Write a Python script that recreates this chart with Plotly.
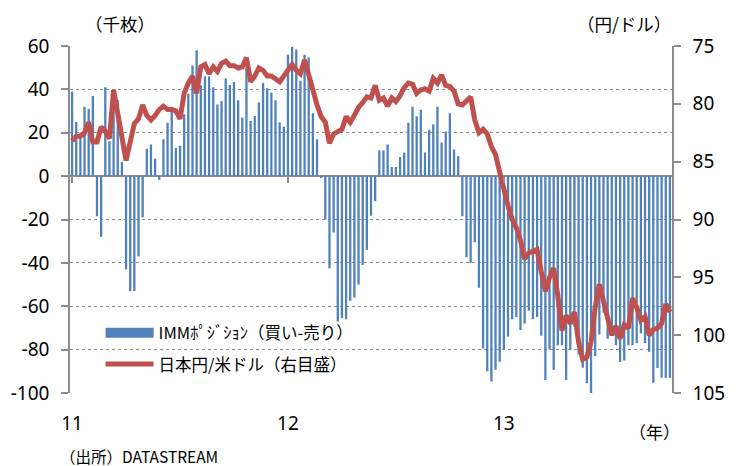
import plotly.graph_objects as go
import pandas as pd

# ---- data (weekly) ----
start_date = "2011-01-04"
imm_position = [
    39, 25, 20, 32, 31, 37, -18.5, -28, 41, 16,
    34, 35, 6.5, -43, -53, -53, -37, -19, 12.6, 14.6,
    8, -1.7, 17, 24.6, 32, 13, 14, 28.5, 38, 51,
    58, 42, 46, 46, 41, 33, 34.6, 45, 42, 43.4,
    35, 27, 50, 25.5, 27.7, 34, 43, 40.5, 38.5, 35,
    24.8, 22.8, 56, 59.6, 58.4, 44, 56, 54.7, 29, 17,
    -0.8, -20, -42.5, -26, -67, -65.5, -66, -57.5, -56, -50,
    -41, -34, -18.3, -11.5, 11.9, 11.9, 14.6, 4.2, 4.2, 8.8,
    10.8, 24.6, 32, 27.6, 30.6, 10.9, 21.4, 23.9, 32, 15.5,
    20.6, 29, 12.3, 9.2, -18.5, -37.4, -40, -30.5, -51.5, -79.5,
    -90, -94.7, -89.3, -85.6, -80, -74, -66, -65, -71, -68,
    -62, -66, -65, -73.6, -94, -80, -89.3, -78, -78, -94,
    -80, -69.5, -82.3, -88.3, -95.5, -100, -83, -73, -63, -75,
    -73, -78, -85.7, -85, -78, -78, -77, -72.5, -77, -81,
    -95.3, -88.5, -93, -93, -93,
]
usdjpy = [
    83.2, 82.8, 82.8, 82.5, 81.6, 83.3, 83.3, 82.0, 82.4, 83.0,
    78.8, 80.8, 83.2, 84.9, 83.3, 81.7, 81.3, 80.1, 81.0, 81.4,
    81.0, 80.5, 80.2, 80.5, 80.5, 80.6, 81.3, 79.1, 78.2, 77.6,
    79.1, 76.8, 76.6, 77.4, 76.8, 77.2, 76.5, 76.3, 76.7, 76.7,
    76.9, 76.8, 76.0, 78.1, 77.6, 76.9, 77.1, 77.6, 77.6, 77.8,
    78.1, 77.6, 77.0, 76.6, 77.1, 77.4, 76.2, 77.6, 79.0, 80.1,
    81.1, 81.6, 83.4, 82.6, 82.4, 82.2, 81.1, 81.6, 81.0, 80.3,
    79.9, 79.4, 79.5, 78.4, 79.7, 79.5, 80.2, 79.5, 79.8, 79.3,
    78.6, 78.2, 78.3, 79.1, 78.8, 78.7, 78.9, 77.8, 78.2, 77.5,
    78.4, 78.5, 78.9, 80.0, 80.1, 79.8, 79.4, 81.4, 82.5, 82.2,
    82.6, 83.7, 84.4, 85.9, 87.5, 88.8, 90.0, 90.7, 91.8, 93.4,
    92.9, 92.8, 92.6, 94.5, 96.2, 95.0, 94.2, 96.6, 99.6, 98.3,
    99.0, 98.0, 100.6, 102.1, 101.9, 100.6, 97.6, 95.6, 97.2, 98.5,
    100.0, 99.2, 100.3, 99.1, 99.4, 96.8, 97.6, 98.7, 98.4, 100.0,
    99.5, 99.4, 99.0, 97.3, 98.0,
]
year_tick_dates = ["2011-01-04", "2012-01-03", "2013-01-01"]
year_tick_labels = ["11", "12", "13"]
left_ticks = [-100, -80, -60, -40, -20, 0, 20, 40, 60]
left_tick_labels = ["-100", "-80", "-60", "-40", "-20", "0", "20", "40", "60"]
right_ticks = [75, 80, 85, 90, 95, 100, 105]

name_bar = "IMMﾎﾟｼﾞｼｮﾝ（買い-売り）"
name_line = "日本円/米ドル（右目盛）"

dates = pd.date_range(start_date, periods=len(imm_position), freq="7D")
half_week = pd.Timedelta(days=3.5)
x_range = [dates[0] - half_week, dates[-1] + half_week]

FONT = "Noto Sans CJK JP"
NUMFONT = "Noto Sans"
GREY = "#8C8C8C"
BLUE = "#4F81BD"
RED = "#C0504D"

fig = go.Figure()
fig.add_trace(go.Bar(
    x=dates, y=imm_position, name=name_bar, showlegend=False,
    marker=dict(color=BLUE, line=dict(width=0)),
    xaxis="x", yaxis="y",
))
# legend swatch for the bar series (wide rectangle as in the reference)
fig.add_trace(go.Scatter(
    x=[None], y=[None], mode="lines", name=name_bar, legendgroup="a",
    line=dict(color=BLUE, width=14), xaxis="x", yaxis="y",
))
fig.add_trace(go.Scatter(
    x=dates, y=usdjpy, mode="lines", name=name_line, legendgroup="b",
    line=dict(color=RED, width=5), xaxis="x2", yaxis="y2",
))

# the page body adds an 8px offset, so the figure is 8px smaller and margins shifted
fig.update_layout(
    width=739, height=458,
    margin=dict(l=62, r=75, t=38, b=73, autoexpand=False),
    paper_bgcolor="white", plot_bgcolor="white",
    font=dict(family=FONT, size=16, color="black"),
    bargap=0.45,
    showlegend=True,
    legend=dict(
        x=0.0508, y=0.2235, xanchor="left", yanchor="top",
        bgcolor="rgba(0,0,0,0)", font=dict(size=16.5, family=FONT),
        itemwidth=48, tracegroupgap=7, traceorder="grouped",
    ),
    xaxis=dict(
        type="date", range=x_range, automargin=False,
        tickvals=year_tick_dates, ticktext=year_tick_labels,
        ticks="", showgrid=False, zeroline=False, showline=False,
        tickfont=dict(size=19, family=NUMFONT), ticklabelstandoff=17,
    ),
    xaxis2=dict(
        type="date", overlaying="x", matches="x", anchor="free", position=0.625,
        side="bottom", tickvals=year_tick_dates, showticklabels=False,
        ticks="outside", ticklen=6, tickwidth=1.5, tickcolor=GREY,
        showgrid=False, zeroline=False, showline=False, automargin=False,
    ),
    yaxis=dict(
        range=[-100, 60], tickvals=left_ticks, ticktext=left_tick_labels,
        automargin=False,
        showgrid=True, gridcolor=GREY, griddash="dot", gridwidth=1,
        zeroline=True, zerolinecolor=GREY, zerolinewidth=1.5,
        showline=True, linecolor=GREY, linewidth=1.5,
        ticks="outside", ticklen=7, tickcolor=GREY, tickwidth=1.5,
        tickfont=dict(size=19, family=NUMFONT), ticklabelstandoff=8,
    ),
    yaxis2=dict(
        overlaying="y", side="right", anchor="x2", range=[105, 75],
        tickvals=right_ticks, showgrid=False, zeroline=False, automargin=False,
        showline=True, linecolor=GREY, linewidth=1.5,
        ticks="outside", ticklen=7, tickcolor=GREY, tickwidth=1.5,
        tickfont=dict(size=19, family=NUMFONT), ticklabelstandoff=8,
    ),
    annotations=[
        dict(text="（千枚）", xref="paper", yref="paper", x=0.0, y=1.0,
             xanchor="left", yanchor="bottom", yshift=8, xshift=13,
             showarrow=False, font=dict(size=17.5)),
        dict(text="（円/ドル）", xref="paper", yref="paper", x=1.0, y=1.0,
             xanchor="right", yanchor="bottom", yshift=8, xshift=1,
             showarrow=False, font=dict(size=17.5)),
        dict(text="（年）", xref="paper", yref="paper", x=1.0, y=0,
             xanchor="right", yanchor="top", yshift=-24, xshift=10,
             showarrow=False, font=dict(size=17)),
        dict(text="（出所）DATASTREAM", xref="paper", yref="paper", x=0, y=0,
             xanchor="left", yanchor="top", yshift=-50, xshift=-12,
             showarrow=False, font=dict(size=15.5)),
    ],
)

fig.write_html("out.html")
